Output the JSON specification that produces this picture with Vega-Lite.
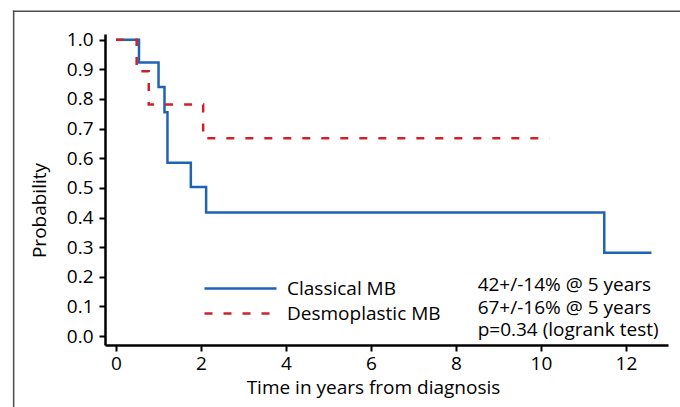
{
  "$schema": "https://vega.github.io/schema/vega-lite/v6.json",
  "width": 563,
  "height": 311,
  "autosize": "none",
  "padding": {"left": 105, "top": 34, "right": 12, "bottom": 62},
  "background": "white",
  "config": {
    "view": {"stroke": null},
    "font": "Open Sans",
    "axis": {
      "grid": false,
      "domainColor": "black",
      "domainWidth": 2.5,
      "tickColor": "black",
      "tickWidth": 2,
      "tickSize": 6,
      "labelFontSize": 19,
      "labelColor": "black",
      "labelPadding": 3,
      "labelOverlap": false,
      "titleFontSize": 19,
      "titleFontWeight": "normal",
      "titleColor": "black"
    }
  },
  "layer": [
    {
      "data": {
        "values": [
          {"group": "Classical MB", "t": 0, "p": 1.0},
          {"group": "Classical MB", "t": 0.54, "p": 0.923},
          {"group": "Classical MB", "t": 1.0, "p": 0.84},
          {"group": "Classical MB", "t": 1.14, "p": 0.755},
          {"group": "Classical MB", "t": 1.21, "p": 0.585},
          {"group": "Classical MB", "t": 1.76, "p": 0.503},
          {"group": "Classical MB", "t": 2.12, "p": 0.417},
          {"group": "Classical MB", "t": 11.49, "p": 0.281},
          {"group": "Classical MB", "t": 12.6, "p": 0.281},
          {"group": "Desmoplastic MB", "t": 0, "p": 1.0},
          {"group": "Desmoplastic MB", "t": 0.485, "p": 0.893},
          {"group": "Desmoplastic MB", "t": 0.77, "p": 0.781},
          {"group": "Desmoplastic MB", "t": 2.05, "p": 0.667},
          {"group": "Desmoplastic MB", "t": 10.2, "p": 0.667}
        ]
      },
      "mark": {"type": "line", "interpolate": "step-after", "strokeWidth": 2.5},
      "encoding": {
        "x": {
          "field": "t",
          "type": "quantitative",
          "scale": {"domain": [-0.26, 12.99], "nice": false, "zero": false},
          "axis": {
            "values": [0, 2, 4, 6, 8, 10, 12],
            "tickCount": 20,
            "format": "d",
            "labelPadding": 3,
            "labelOverlap": false,
            "title": "Time in years from diagnosis",
            "titleX": 268,
            "titleY": 42,
            "titleAlign": "center",
            "titleBaseline": "middle"
          }
        },
        "y": {
          "field": "p",
          "type": "quantitative",
          "scale": {"domain": [-0.03, 1.019], "nice": false, "zero": false},
          "axis": {
            "values": [0, 0.1, 0.2, 0.3, 0.4, 0.5, 0.6, 0.7, 0.8, 0.9, 1.0],
            "tickCount": 20,
            "format": ".1f",
            "labelPadding": 6,
            "labelOverlap": false,
            "labelBound": false,
            "title": "Probability",
            "titleX": -66,
            "titleY": 176,
            "titleAngle": -90,
            "titleAlign": "center",
            "titleBaseline": "middle"
          }
        },
        "color": {
          "field": "group",
          "type": "nominal",
          "scale": {"domain": ["Classical MB", "Desmoplastic MB"], "range": ["#1f63b5", "#cc2229"]},
          "legend": {
            "orient": "none",
            "legendX": 124,
            "legendY": 243,
            "title": null,
            "padding": 0,
            "symbolType": "M-3.6,0H3.6",
            "symbolSize": 400,
            "symbolStrokeWidth": 2.5,
            "labelFontSize": 19,
            "labelColor": "black",
            "labelOffset": 35,
            "rowPadding": 3
          }
        },
        "strokeDash": {
          "field": "group",
          "type": "nominal",
          "scale": {"domain": ["Classical MB", "Desmoplastic MB"], "range": [[1, 0], [8, 11]]},
          "legend": {
            "orient": "none",
            "legendX": 124,
            "legendY": 243,
            "title": null,
            "padding": 0,
            "symbolType": "M-3.6,0H3.6",
            "symbolSize": 400,
            "symbolStrokeWidth": 2.5,
            "labelFontSize": 19,
            "labelColor": "black",
            "labelOffset": 35,
            "rowPadding": 3
          }
        }
      }
    },
    {
      "data": {"values": [{}]},
      "mark": {"type": "text", "align": "left", "baseline": "middle", "lineHeight": 22.5, "fontSize": 19, "color": "black"},
      "encoding": {
        "x": {"datum": 8.51},
        "y": {"datum": 0.172},
        "text": {"value": ["42+/-14% @ 5 years", "67+/-16% @ 5 years", "p=0.34 (logrank test)"]}
      }
    },
    {
      "data": {"values": [{}]},
      "mark": {"type": "rule", "color": "#4d4d4d", "strokeWidth": 1.5, "strokeCap": "square"},
      "encoding": {
        "x": {"datum": -2.41},
        "y": {"datum": 1.096},
        "y2": {"datum": -0.3}
      }
    },
    {
      "data": {"values": [{}]},
      "mark": {"type": "rule", "color": "#4d4d4d", "strokeWidth": 1.5, "strokeCap": "square"},
      "encoding": {
        "y": {"datum": 1.096},
        "x": {"datum": -2.41},
        "x2": {"datum": 14}
      }
    }
  ]
}
